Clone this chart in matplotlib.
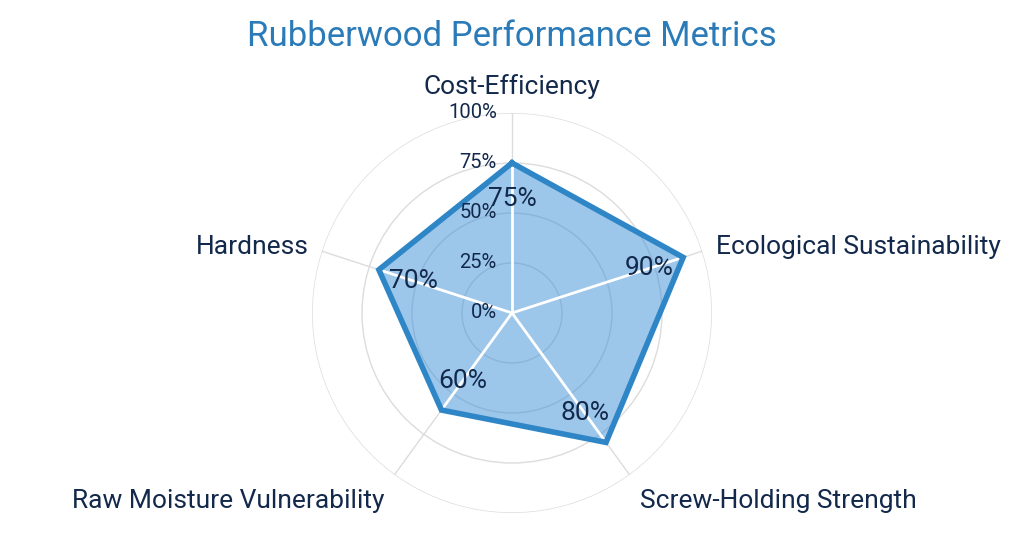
import numpy as np
import matplotlib.pyplot as plt

plt.rcParams['font.family'] = ['Roboto', 'DejaVu Sans']

categories = ["Cost-Efficiency", "Ecological Sustainability", "Screw-Holding Strength",
              "Raw Moisture Vulnerability", "Hardness"]
values = [75, 90, 80, 60, 70]
tick_values = [0, 25, 50, 75, 100]
tick_labels = ["0%", "25%", "50%", "75%", "100%"]

text_color = "#13294b"
line_color = "#2f86c6"

fig = plt.figure(figsize=(10.24, 5.59), dpi=100)
ax = fig.add_axes([0.3047, 0.0823, 0.3906, 0.7156], projection="polar")
ax.set_theta_offset(np.pi / 2)
ax.set_theta_direction(-1)

n = len(categories)
angles = np.linspace(0, 2 * np.pi, n, endpoint=False)
r = np.array(values) / 100.0

ax.set_ylim(0, 1)
ax.set_rgrids([t / 100 for t in tick_values[1:]], labels=[""] * 4)
ax.set_thetagrids(np.degrees(angles), labels=[""] * n)
ax.grid(color="#dcdcdc", linewidth=1)
ax.spines["polar"].set_visible(False)
ax.set_facecolor("white")

# polygon
closed_a = np.append(angles, angles[0])
closed_r = np.append(r, r[0])
ax.fill(closed_a, closed_r, color="#3a8fd6", alpha=0.5, zorder=2)
ax.plot(closed_a, closed_r, color=line_color, linewidth=4, zorder=4,
        solid_joinstyle="miter")

# white spokes on top of the fill
for a, v in zip(angles, r):
    ax.plot([a, a], [0, v], color="white", linewidth=2, zorder=3)

# radial tick labels
for t, lab in zip(tick_values, tick_labels):
    ax.annotate(lab, xy=(0, t / 100), xytext=(-11, 0), textcoords="offset points",
                ha="right", va="center", fontsize=14.5, color=text_color, zorder=5)

# value labels
for a, v in zip(angles, values):
    ax.text(a, v / 100 - 0.18, f"{v}%", ha="center", va="center", fontsize=19,
            color=text_color, zorder=5)

# category labels
for a, cat in zip(angles, categories):
    x = np.sin(a)
    y = np.cos(a)
    if abs(x) < 0.1:
        ha = "center"
    elif x > 0:
        ha = "left"
    else:
        ha = "right"
    if y > 0.9:
        va, rr = "bottom", 1.07
    elif y < -0.5:
        va, rr = "top", 1.085
    else:
        va, rr = "center", 1.07
    ax.text(a, rr, cat, ha=ha, va=va, fontsize=19, color=text_color, clip_on=False)

fig.text(0.5, 0.935, "Rubberwood Performance Metrics", ha="center", va="center",
         fontsize=25, color="#2b7bb9")

fig.savefig("out.png", dpi=100, facecolor="white")
